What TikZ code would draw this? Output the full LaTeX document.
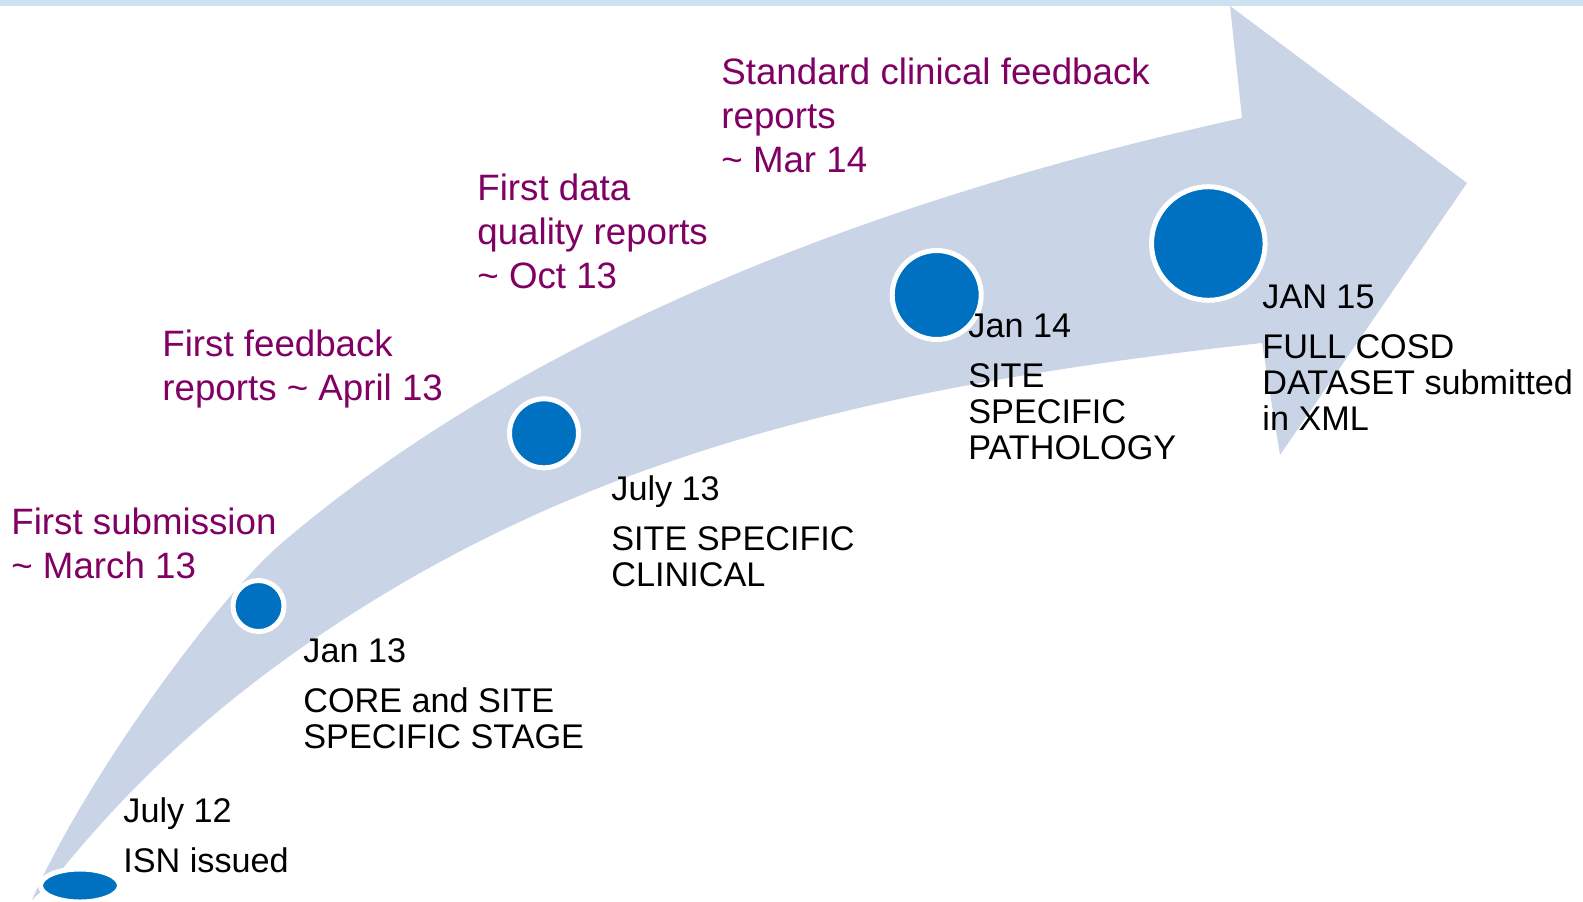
\documentclass[tikz,border=0pt]{standalone}
\usepackage{fontspec}
\setmainfont{Liberation Sans}
\usetikzlibrary{shapes.geometric}
\definecolor{arrowfill}{RGB}{201,212,231}
\definecolor{dotblue}{RGB}{0,112,192}
\definecolor{purp}{RGB}{128,0,100}
\definecolor{band}{RGB}{204,226,240}
\begin{document}
\begin{tikzpicture}[x=0.5pt,y=-0.5pt,
  dot/.style={circle,fill=dotblue,draw=white,line width=2.5pt,inner sep=0pt},
  milestone/.style={anchor=base west,inner sep=0pt,align=left,font=\fontsize{17.1pt}{18pt}\selectfont,text=black},
  event/.style={anchor=base west,inner sep=0pt,align=left,font=\fontsize{18.35pt}{21.8pt}\selectfont,text=purp}]
\useasboundingbox (0,0) rectangle (1583,901);
\fill[band] (0,0) rectangle (1583,5.5);
% curved arrow
\fill[arrowfill] (32,900) .. controls (82,785) and (213,601.5) .. (283,542)
  .. controls (453,397.5) and (742,228) .. (1242,118)
  -- (1230,6) -- (1467,183) -- (1280,455) -- (1262,343)
  .. controls (862,387) and (577,460) .. (317,637)
  .. controls (237,691.4) and (145,765.5) .. (55,878) -- cycle;
% milestone dots
\node[dot,ellipse,minimum width=39.5pt,minimum height=16.5pt] (d0) at (80,885.5) {};
\node[dot,minimum size=25.5pt] (d1) at (258.5,606) {};
\node[dot,minimum size=34.5pt] (d2) at (544,433.3) {};
\node[dot,minimum size=44.5pt] (d3) at (936.7,295) {};
\node[dot,minimum size=56.8pt] (d4) at (1208.3,243.5) {};
% milestone labels (anchored at the baseline of the last line)
\node[milestone] (m0) at (123,872) {July 12\\[7pt]ISN issued};
\node[milestone] (m1) at (303,748) {Jan 13\\[7pt]CORE and SITE\\SPECIFIC STAGE};
\node[milestone] (m2) at (611,586) {July 13\\[7pt]SITE SPECIFIC\\CLINICAL};
\node[milestone] (m3) at (968,459) {Jan 14\\[7pt]SITE\\SPECIFIC\\PATHOLOGY};
\node[milestone] (m4) at (1262,430) {JAN 15\\[7pt]FULL COSD\\DATASET submitted\\in XML};
% event labels
\node[event] (e1) at (11,578) {First submission\\\textasciitilde\ March 13};
\node[event] (e2) at (162,400) {First feedback\\reports \textasciitilde\ April 13};
\node[event] (e3) at (477,288) {First data\\quality reports\\\textasciitilde\ Oct 13};
\node[event] (e4) at (721,172) {Standard clinical feedback\\reports\\\textasciitilde\ Mar 14};
\end{tikzpicture}
\end{document}
